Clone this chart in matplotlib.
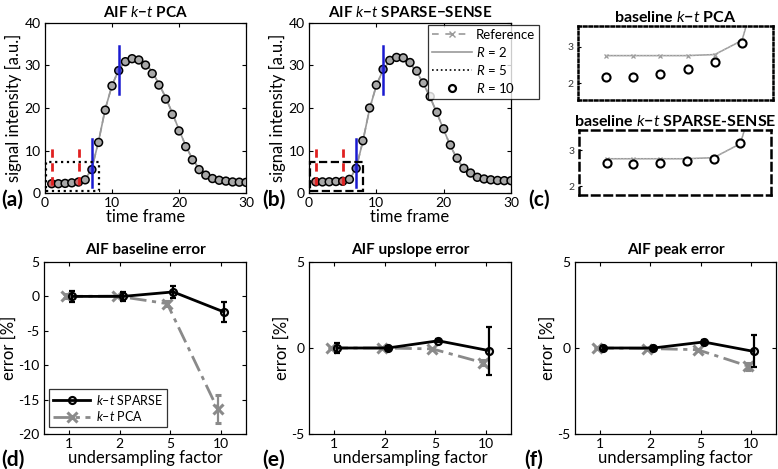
import matplotlib
matplotlib.use("Agg")
import matplotlib.pyplot as plt
from matplotlib.lines import Line2D
from matplotlib.patches import Rectangle

plt.rcParams['font.family'] = ['Lato', 'DejaVu Sans']
plt.rcParams['mathtext.fontset'] = 'custom'
plt.rcParams['mathtext.it'] = 'Lato:italic'
plt.rcParams['mathtext.rm'] = 'Lato'
plt.rcParams['mathtext.bf'] = 'Lato:bold'
plt.rcParams['axes.unicode_minus'] = False

# ---------------- data ----------------
frames = list(range(1, 31))
reference = [2.76, 2.76, 2.76, 2.76, 2.79, 3.18, 5.8, 12.2, 19.8, 25.3, 29.0, 31.1, 31.8, 31.6,
             30.5, 28.5, 25.7, 22.5, 18.8, 14.9, 11.1, 8.0, 5.7, 4.5, 3.6, 3.2, 3.0, 2.9, 2.85, 2.8]
r10_pca = [2.18, 2.18, 2.26, 2.39, 2.58, 3.10, 5.5, 11.9, 19.5, 25.2, 28.8, 30.9, 31.6, 31.3,
           30.1, 28.1, 25.4, 22.1, 18.5, 14.6, 10.9, 7.8, 5.5, 4.2, 3.4, 3.0, 2.8, 2.6, 2.55, 2.5]
r10_sparse = [2.63, 2.61, 2.63, 2.70, 2.76, 3.21, 5.8, 12.3, 20.0, 25.4, 29.1, 31.2, 31.9, 31.8,
              30.7, 28.7, 25.9, 22.7, 19.0, 15.1, 11.3, 8.2, 5.8, 4.7, 3.7, 3.3, 3.1, 2.95, 2.9, 2.9]

factors = ['1', '2', '5', '10']
base_sparse = [0.0, 0.0, 0.65, -2.25]
base_sparse_err = [0.8, 0.6, 0.85, 1.4]
base_pca = [0.0, 0.05, -1.05, -16.4]
base_pca_err = [0.3, 0.2, 0.4, 2.0]
up_sparse = [0.0, 0.0, 0.42, -0.15]
up_sparse_err = [0.3, 0.1, 0.1, 1.4]
up_pca = [0.0, 0.0, -0.05, -0.85]
up_pca_err = [0.05, 0.05, 0.05, 0.15]
peak_sparse = [0.0, 0.0, 0.35, -0.2]
peak_sparse_err = [0.1, 0.1, 0.1, 0.93]
peak_pca = [0.0, -0.03, -0.1, -1.05]
peak_pca_err = [0.05, 0.05, 0.05, 0.2]

# ---------------- layout ----------------
W, H = 778, 469
fig = plt.figure(figsize=(W / 100, H / 100), dpi=100)


def ax_px(l, t, r, b):
    return fig.add_axes([l / W, 1 - b / H, (r - l) / W, (b - t) / H])


GRAY = '#9a9a9a'
TICK_FS = 10
LAB_FS = 12
TITLE_FS = 11


def matlab_style(ax):
    ax.tick_params(direction='in', top=True, right=True, labelsize=TICK_FS, length=3, width=0.8,
                   pad=3)
    for s in ax.spines.values():
        s.set_linewidth(0.9)


def top_panel(ax, r10, title, rect_style):
    ax.plot(frames, reference, color=GRAY, lw=1.2, ls=(0, (5, 3)), zorder=2)
    ax.plot(frames, reference, color=GRAY, lw=1.2, ls='-', zorder=2)
    fc = ['#a8a8a8'] * len(frames)
    fc[0] = fc[4] = '#c47070'
    fc[6] = fc[10] = '#6a6ac8'
    ax.scatter(frames, r10, s=32, facecolors=fc, edgecolors='black', linewidths=1.1, zorder=3)
    # markers of interest
    for xv in (1, 5):
        ax.plot([xv, xv], [1.8, 10.5], color='#e02020', lw=2, ls=(0, (3, 2)), zorder=4)
    ax.plot([7, 7], [1.4, 12.8], color='#1a1ad0', lw=1.8, zorder=4)
    ax.plot([11, 11], [23.2, 34.5], color='#1a1ad0', lw=1.8, zorder=4)
    ax.add_patch(Rectangle((0.1, 0.5), 7.9, 6.8, fill=False, ec='black', lw=1.6,
                           ls=rect_style, zorder=5, clip_on=False))
    ax.set_xlim(0, 30)
    ax.set_ylim(0, 40)
    ax.set_xticks([0, 10, 20, 30])
    ax.set_yticks([0, 10, 20, 30, 40])
    matlab_style(ax)
    ax.set_xlabel('time frame', fontsize=LAB_FS, labelpad=0)
    ax.set_ylabel('signal intensity [a.u.]', fontsize=LAB_FS, labelpad=2)
    ax.set_title(title, fontsize=TITLE_FS, fontweight='bold', pad=4)


ax_a = ax_px(45, 23, 246, 193)
top_panel(ax_a, r10_pca, r'AIF $\mathbf{\mathit{k}}$$\mathbf{-}$$\mathbf{\mathit{t}}$ PCA', ':')
ax_b = ax_px(309, 23, 511, 193)
top_panel(ax_b, r10_sparse, r'AIF $\mathbf{\mathit{k}}$$\mathbf{-}$$\mathbf{\mathit{t}}$ SPARSE−SENSE', '--')

handles = [
    Line2D([], [], color=GRAY, ls=(0, (4, 4)), marker='x', ms=4, lw=1.2),
    Line2D([], [], color=GRAY, ls='-', lw=1.2),
    Line2D([], [], color='black', ls=':', lw=1.2),
    Line2D([], [], color='black', ls='none', marker='o', mfc='white', mec='black', mew=1.6, ms=5),
]
labels = ['Reference', r'$R$ = 2', r'$R$ = 5', r'$R$ = 10']
leg = ax_b.legend(handles, labels, loc='upper right', bbox_to_anchor=(539 / W, 1 - 25 / H),
                  bbox_transform=fig.transFigure, fontsize=9.5, frameon=True, fancybox=False,
                  edgecolor='black', handlelength=3.0, handletextpad=0.3, borderpad=0.3,
                  labelspacing=0.3, borderaxespad=0)
leg.get_frame().set_linewidth(0.9)
leg.set_zorder(10)


def zoom_panel(ax, r10, title, spine_ls):
    ax.plot(frames, reference, color=GRAY, lw=1.1, ls='-', marker='x', ms=3.5, mew=0.9, zorder=2)
    ax.plot(frames, reference, color='#bbbbbb', lw=0.9, ls=':', zorder=2)
    ax.scatter(frames, r10, s=34, facecolors='white', edgecolors='black', linewidths=1.5, zorder=3)
    ax.set_xlim(-0.03, 7.14)
    ax.set_xticks([])
    ax.set_yticks([2, 3])
    ax.tick_params(direction='in', left=True, right=False, labelsize=7.5, length=2.5,
                   labelcolor='#333333', pad=3)
    for s in ax.spines.values():
        s.set_linestyle(spine_ls)
        s.set_linewidth(1.8)
    ax.set_title(title, fontsize=11.5, fontweight='bold', pad=3)


ax_c1 = ax_px(578, 26, 773, 100)
zoom_panel(ax_c1, r10_pca, r'baseline $\mathbf{\mathit{k}}$$\mathbf{-}$$\mathbf{\mathit{t}}$ PCA', (0, (1, 1.2)))
ax_c1.set_ylim(1.53, 3.58)
ax_c2 = ax_px(579, 130, 771, 195)
zoom_panel(ax_c2, r10_sparse, r'baseline $\mathbf{\mathit{k}}$$\mathbf{-}$$\mathbf{\mathit{t}}$ SPARSE-SENSE', (0, (3, 2)))
ax_c2.set_ylim(1.75, 3.56)

PCA_C = '#8a8a8a'


def err_panel(ax, sp, sp_err, pc, pc_err, title, ylim, yticks):
    pos = list(range(1, len(factors) + 1))
    ax.errorbar([p - 0.06 for p in pos], pc, yerr=pc_err, color=PCA_C, ls=(0, (6, 2, 1.5, 2)),
                lw=2, marker='x', ms=7, mew=2.2, capsize=2, elinewidth=1.6, zorder=2)
    ax.errorbar([p + 0.06 for p in pos], sp, yerr=sp_err, color='black', ls='-', lw=2,
                marker='o', ms=5, mfc='none', mew=1.6, capsize=2, elinewidth=1.6, zorder=3)
    ax.set_xlim(0.5, 4.5)
    ax.set_ylim(*ylim)
    ax.set_xticks(pos)
    ax.set_xticklabels(factors)
    ax.set_yticks(yticks)
    matlab_style(ax)
    ax.set_xlabel('undersampling factor', fontsize=LAB_FS, labelpad=0)
    ax.set_ylabel('error [%]', fontsize=LAB_FS, labelpad=1)
    ax.set_title(title, fontsize=TITLE_FS, fontweight='bold', pad=6)


ax_d = ax_px(44, 262, 246, 434)
err_panel(ax_d, base_sparse, base_sparse_err, base_pca, base_pca_err, 'AIF baseline error',
          (-20, 5), [-20, -15, -10, -5, 0, 5])
ax_e = ax_px(309, 262, 511, 434)
err_panel(ax_e, up_sparse, up_sparse_err, up_pca, up_pca_err, 'AIF upslope error', (-5, 5), [-5, 0, 5])
ax_f = ax_px(575, 262, 776, 434)
err_panel(ax_f, peak_sparse, peak_sparse_err, peak_pca, peak_pca_err, 'AIF peak error', (-5, 5), [-5, 0, 5])

lh = [Line2D([], [], color='black', lw=2, marker='o', ms=5, mfc='none', mew=1.6),
      Line2D([], [], color=PCA_C, lw=2, ls=(0, (6, 2, 1.5, 2)), marker='x', ms=7, mew=2.2)]
ll = [r'$k$–$t$ SPARSE', r'$k$–$t$ PCA']
leg2 = ax_d.legend(lh, ll, loc='lower left', bbox_to_anchor=(49 / W, 1 - 427 / H),
                   bbox_transform=fig.transFigure, fontsize=9, frameon=True, fancybox=False,
                   edgecolor='black', handlelength=3.0, handletextpad=0.5, borderpad=0.3,
                   labelspacing=0.2, borderaxespad=0)
leg2.get_frame().set_linewidth(0.9)

# panel labels
for lab, x, y in [('(a)', 1, 200), ('(b)', 262, 200), ('(c)', 528, 200),
                  ('(d)', 1, 460), ('(e)', 262, 460), ('(f)', 524, 460)]:
    fig.text(x / W, 1 - y / H, lab, fontsize=15, fontweight='bold', ha='left', va='center')

fig.savefig('out.png', dpi=100)
